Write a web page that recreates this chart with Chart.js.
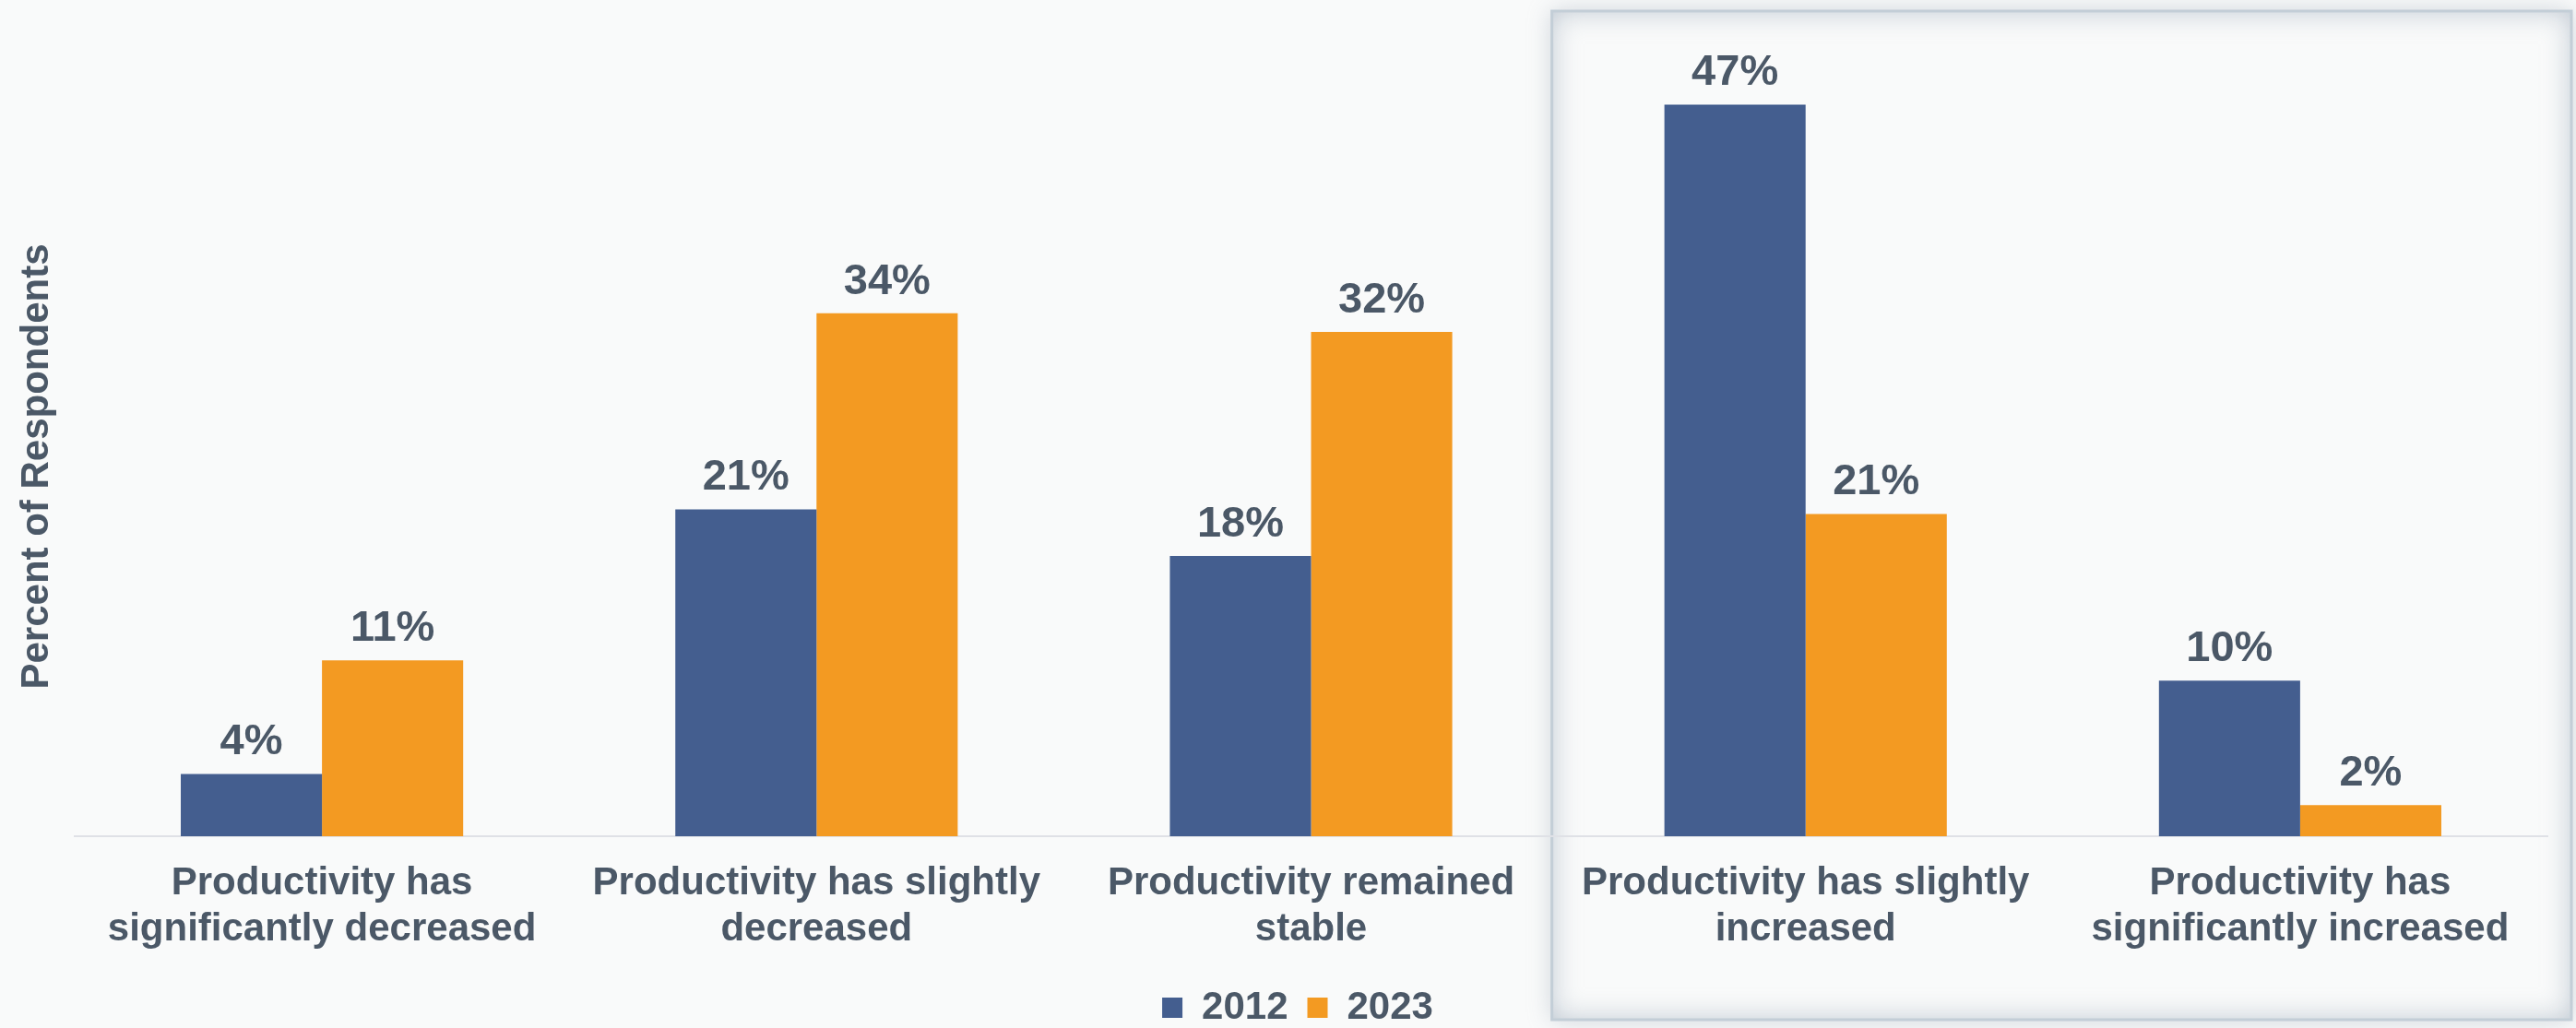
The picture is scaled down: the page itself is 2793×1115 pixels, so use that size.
<!DOCTYPE html>
<html>
<head>
  <meta charset="UTF-8">
  <title>Productivity 2012 vs 2023</title>
  <script src="https://cdn.jsdelivr.net/npm/chart.js"></script>
  <style>
    html, body {
      margin: 0;
      padding: 0;
      background: #f9fafa;
    }
    #wrap {
      width: 2793px;
      height: 1115px;
    }
  </style>
</head>
<body>
  <div id="wrap"><canvas id="chart"></canvas></div>

  <script>
    const categories = [
      ["Productivity has", "significantly decreased"],
      ["Productivity has slightly", "decreased"],
      ["Productivity remained", "stable"],
      ["Productivity has slightly", "increased"],
      ["Productivity has", "significantly increased"]
    ];
    const seriesNames = ["2012", "2023"];
    const values2012 = [4, 21, 18, 47, 10];
    const values2023 = [11.3, 33.6, 32.4, 20.7, 2];
    const yTitle = "Percent of Respondents";

    const TEXT = "#4b5867";
    const FONT = "'Liberation Sans', Arial, sans-serif";

    // highlight frame behind the last two groups
    const highlightBox = {
      id: 'highlightBox',
      afterLayout(chart) {
        // legend sits a little right of the canvas centre
        chart.legend.left += 52;
      },
      beforeDraw(chart) {
        const ctx = chart.ctx;
        const xs = chart.scales.x;
        const left = (xs.getPixelForValue(2) + xs.getPixelForValue(3)) / 2 - 7;
        const top = 12;
        const right = chart.width - 5;
        const bottom = chart.height - 9;
        const w = right - left, h = bottom - top;

        ctx.save();
        ctx.shadowColor = 'rgba(150,165,180,0.45)';
        ctx.shadowBlur = 24;
        ctx.fillStyle = '#f9fafa';
        ctx.fillRect(left, top, w, h);
        ctx.restore();

        // inner glow
        ctx.save();
        ctx.beginPath();
        ctx.rect(left, top, w, h);
        ctx.clip();
        ctx.beginPath();
        ctx.rect(left - 200, top - 200, w + 400, h + 400);
        ctx.rect(left, top, w, h);
        ctx.shadowColor = 'rgba(150,165,182,0.6)';
        ctx.shadowBlur = 30;
        ctx.fillStyle = 'rgba(150,165,182,1)';
        ctx.fill('evenodd');
        ctx.restore();

        ctx.save();
        ctx.strokeStyle = '#c3ced7';
        ctx.lineWidth = 3;
        ctx.strokeRect(left, top, w, h);
        ctx.restore();
      }
    };

    // percent labels above bars
    const barLabels = {
      id: 'barLabels',
      afterDatasetsDraw(chart) {
        const ctx = chart.ctx;
        ctx.save();
        ctx.font = "bold 47px " + FONT;
        ctx.fillStyle = TEXT;
        ctx.textAlign = 'center';
        ctx.textBaseline = 'alphabetic';
        chart.data.datasets.forEach((ds, di) => {
          chart.getDatasetMeta(di).data.forEach((bar, i) => {
            ctx.fillText(Math.round(ds.data[i]) + '%', bar.x, bar.y - 21);
          });
        });
        ctx.restore();
      }
    };

    new Chart(document.getElementById('chart'), {
      type: 'bar',
      data: {
        labels: categories,
        datasets: [
          {
            label: seriesNames[0],
            data: values2012,
            backgroundColor: '#445e8f',
            borderWidth: 0
          },
          {
            label: seriesNames[1],
            data: values2023,
            backgroundColor: '#f39a22',
            borderWidth: 0
          }
        ]
      },
      options: {
        responsive: true,
        maintainAspectRatio: false,
        animation: false,
        categoryPercentage: 0.571,
        barPercentage: 1,
        layout: {
          padding: { top: 105, left: 0, right: 31, bottom: -9 }
        },
        plugins: {
          tooltip: { enabled: false },
          legend: {
            position: 'bottom',
            labels: {
              boxWidth: 22,
              boxHeight: 22,
              padding: 21,
              color: TEXT,
              font: { family: FONT, size: 42, weight: 'bold' }
            }
          }
        },
        scales: {
          x: {
            grid: { display: false, drawTicks: false },
            border: { display: true, color: '#dfe1e6', width: 2 },
            ticks: {
              color: TEXT,
              padding: 26,
              maxRotation: 0,
              autoSkip: false,
              font: { family: FONT, size: 42, weight: 'bold', lineHeight: 1.2 }
            },
            afterFit(scale) { scale.height = 144; }
          },
          y: {
            min: 0,
            max: 47.5,
            grid: { display: false },
            border: { display: false },
            ticks: { display: false },
            title: {
              display: true,
              text: yTitle,
              color: TEXT,
              padding: { top: 15, bottom: 0 },
              font: { family: FONT, size: 42, weight: 'bold' }
            },
            afterFit(scale) { scale.width = 81; }
          }
        }
      },
      plugins: [highlightBox, barLabels]
    });
  </script>
</body>
</html>
